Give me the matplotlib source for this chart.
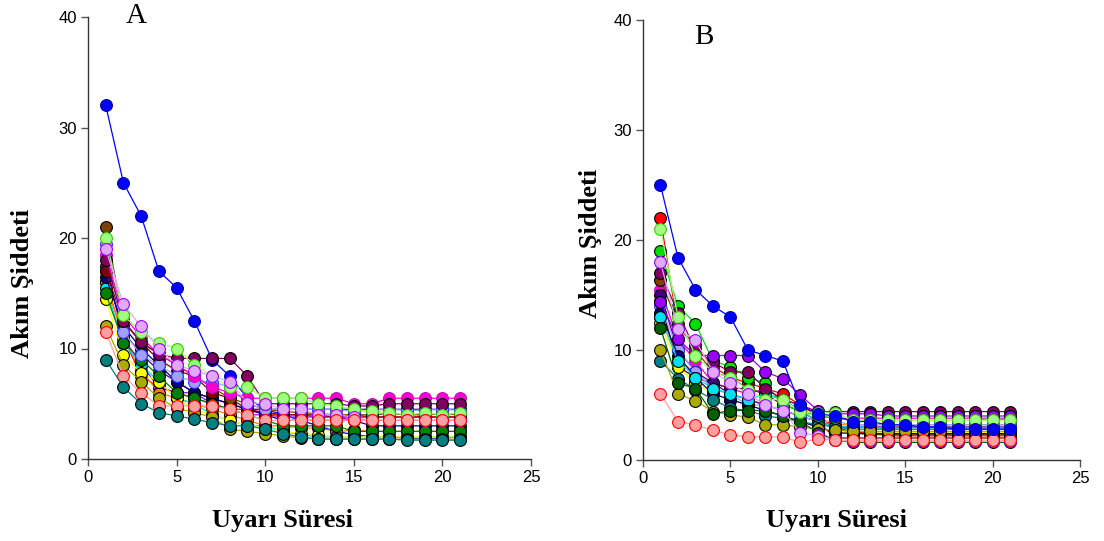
import matplotlib
matplotlib.use("Agg")
import matplotlib.pyplot as plt

x = list(range(1, 22))

# ---------------- Panel A data ----------------
a_blue = [32, 25, 22, 17, 15.5, 12.5, 9.0, 7.5, 5.5, 4.5, 4.0, 3.5, 3.0, 2.5, 2.2, 2.0, 2.0, 1.9, 1.8, 1.9, 2.0]
a_brown = [21, 12.5, 10.5, 9.5, 8.5, 7.5, 6.5, 5.5, 5.0, 4.5, 4.3, 4.2, 4.1, 4.0, 4.0, 4.0, 4.1, 4.0, 4.0, 4.1, 4.0]
a_lightgreen = [20, 13, 11.5, 10.5, 10.0, 8.5, 7.5, 6.5, 6.5, 5.5, 5.5, 5.5, 5.0, 4.8, 4.5, 4.3, 4.2, 4.0, 4.2, 4.0, 4.2]
a_lightblue = [19.5, 11.5, 9.4, 8.5, 7.5, 7.0, 7.0, 6.5, 5.0, 4.5, 4.5, 4.5, 4.5, 4.5, 4.3, 4.4, 4.5, 4.4, 4.4, 4.5, 4.4]
a_plum = [19, 14, 12, 10, 8.5, 8, 7.5, 7, 5.1, 5, 4.5, 4.5, 4.0, 4.0, 3.8, 3.5, 3.5, 3.5, 3.5, 3.5, 3.5]
a_magenta = [18.5, 13, 11, 9.5, 8.5, 7.5, 6.5, 6, 5.5, 5.5, 5.5, 5.5, 5.5, 5.5, 5.0, 5.0, 5.5, 5.5, 5.5, 5.5, 5.5]
a_purple = [18, 12.5, 10.6, 9.5, 9.1, 9.1, 9.1, 9.1, 7.5, 5.0, 5.0, 5.0, 5.0, 5.0, 4.8, 4.8, 5.0, 5.0, 5.0, 5.0, 5.0]
a_darkred = [17, 12.5, 10.5, 9, 8, 7.5, 6, 5.5, 4.5, 4.2, 4.0, 4.0, 4.0, 3.8, 3.8, 3.8, 3.8, 3.8, 3.8, 3.8, 3.8]
a_navy = [16.5, 12, 10, 8.5, 7, 6, 5.5, 5, 4.5, 4, 3.5, 3.5, 3.5, 3.5, 3.5, 3.0, 3.0, 3.0, 3.0, 3.0, 3.0]
a_orange = [16, 11, 8, 6, 5.5, 5, 4.5, 4, 3.5, 3.0, 3.0, 2.8, 2.8, 2.5, 2.6, 2.5, 2.5, 2.5, 2.5, 2.5, 2.5]
a_cyan = [15.5, 10.5, 8.5, 7, 5.5, 5, 4, 3.5, 3.0, 3.0, 2.5, 2.2, 2.0, 2.0, 2.0, 2.0, 2.0, 2.0, 2.0, 2.0, 2.0]
a_green = [15, 10.5, 9, 7.5, 6, 5.5, 5, 4.5, 4, 3.5, 3.0, 3.0, 3.0, 3.0, 2.5, 2.5, 2.5, 2.5, 2.5, 2.5, 2.5]
a_yellow = [14.5, 9.4, 7.8, 7.0, 5.5, 4.5, 4, 3.5, 3.0, 2.8, 2.5, 2.3, 2.2, 2.0, 2.0, 2.0, 2.0, 2.0, 2.0, 2.0, 2.0]
a_olive = [12, 8.5, 7, 5.5, 4.6, 4.2, 3.8, 2.7, 2.5, 2.3, 2.1, 1.9, 1.8, 1.8, 1.8, 1.8, 1.8, 1.8, 1.8, 1.8, 1.8]
a_pink = [11.5, 7.5, 6.0, 4.8, 4.8, 4.8, 4.8, 4.5, 4.0, 3.5, 3.5, 3.5, 3.5, 3.5, 3.5, 3.5, 3.5, 3.5, 3.5, 3.5, 3.5]
a_teal = [9, 6.5, 5.0, 4.2, 3.9, 3.6, 3.3, 3.0, 3.0, 2.7, 2.3, 2.0, 1.8, 1.8, 1.8, 1.8, 1.8, 1.7, 1.7, 1.7, 1.7]
a_red = [16, 11, 7.5, 6.5, 6, 5.5, 5, 4.5, 4.5, 4.0, 4.0, 4.0, 3.8, 3.8, 4.0, 3.8, 3.8, 3.8, 3.8, 3.8, 3.8]
a_violet = [17.5, 11, 8.5, 6.5, 6, 6, 5, 4.5, 4.0, 4.0, 3.8, 3.8, 3.8, 3.8, 3.5, 3.5, 3.5, 3.5, 3.5, 3.5, 3.5]
a_indigo = [17, 11.5, 9.5, 8, 7, 6, 5.5, 5, 4.5, 4.5, 4.5, 4.5, 4.5, 4.5, 4.5, 4.5, 4.5, 4.5, 4.5, 4.5, 4.5]

# ---------------- Panel B data ----------------
b_blue = [25, 18.4, 15.5, 14, 13, 10, 9.5, 9, 5, 4.2, 4.0, 3.5, 3.5, 3.2, 3.2, 3.0, 3.0, 2.8, 2.8, 2.8, 2.8]
b_red = [22, 12, 10.5, 8.5, 7.5, 7, 6.5, 6, 5, 4, 3.0, 2.5, 2.5, 2.2, 2.2, 2.2, 2.2, 2.2, 2.2, 2.2, 2.2]
b_lightgreen = [21, 13, 9.5, 8, 7.5, 6.4, 5.5, 5.5, 4.4, 4.3, 4.3, 3.6, 3.6, 3.6, 3.6, 3.6, 3.6, 3.6, 3.6, 3.6, 3.6]
b_green = [19, 14, 12.4, 9, 8.5, 7.5, 7, 5, 4.5, 4.0, 3.8, 3.6, 3.6, 3.6, 3.6, 3.6, 3.6, 3.6, 3.6, 3.8, 3.6]
b_plum = [18, 11.9, 10.9, 8, 7, 6, 5, 4.5, 2.5, 2.2, 1.8, 1.7, 1.7, 1.7, 1.7, 1.7, 1.7, 1.7, 1.7, 1.7, 1.7]
b_purple = [17, 13.4, 10, 8.9, 8, 8, 6.5, 5.5, 5, 4.4, 4.4, 4.4, 4.4, 4.4, 4.4, 4.4, 4.4, 4.4, 4.4, 4.4, 4.4]
b_brown = [16.4, 12.4, 10, 8, 7.5, 6.5, 6, 5.5, 4.5, 3.5, 3.0, 2.5, 2.3, 2.3, 2.3, 2.3, 2.3, 2.3, 2.3, 2.3, 2.3]
b_indigo = [15, 10, 8, 7, 6, 5.5, 5, 4.5, 4.0, 3.5, 3.0, 3.0, 3.0, 3.0, 3.0, 3.0, 3.0, 3.0, 3.0, 3.0, 3.0]
b_violet = [14.4, 11, 9.5, 9.5, 9.5, 9.5, 8, 7.4, 5.9, 4.5, 4.2, 4.2, 4.2, 4.0, 4.0, 4.0, 4.0, 4.0, 4.0, 4.0, 4.0]
b_lightblue = [14, 10, 8, 6.5, 6, 5, 5, 4.5, 4, 3.5, 3.5, 3.2, 3.2, 3.2, 3.2, 3.2, 3.2, 3.2, 3.2, 3.2, 3.2]
b_navy = [13.4, 9.5, 7.5, 6, 5.5, 5, 4.5, 4, 3.5, 3.0, 2.5, 2.4, 2.4, 2.4, 2.4, 2.4, 2.4, 2.4, 2.4, 2.4, 2.4]
b_cyan = [13, 9, 7.5, 6.5, 6, 5.5, 6, 5.5, 4.5, 3.5, 3.0, 3.0, 3.0, 2.8, 2.8, 2.8, 2.8, 2.8, 2.8, 2.8, 2.8]
b_darkgreen = [12, 7, 6.5, 4.2, 4.5, 4.5, 4.5, 4.0, 3.5, 2.5, 1.8, 1.6, 1.6, 1.6, 1.6, 1.6, 1.6, 1.6, 1.6, 1.6, 1.6]
b_olive = [10, 6, 5.4, 4.4, 4.1, 3.9, 3.2, 3.2, 3.0, 2.8, 2.7, 2.6, 2.6, 2.6, 2.6, 2.6, 2.6, 2.6, 2.6, 2.6, 2.6]
b_teal = [9, 7.4, 6.4, 5.5, 4.7, 4.5, 4, 3.8, 3.5, 3.2, 3.0, 2.8, 2.8, 2.8, 2.8, 2.8, 2.8, 2.8, 2.8, 2.8, 2.8]
b_pink = [6, 3.5, 3.2, 2.7, 2.3, 2.1, 2.1, 2.1, 1.6, 1.9, 1.8, 1.8, 1.8, 1.8, 1.8, 1.8, 1.8, 1.8, 1.8, 1.8, 1.8]
b_magenta = [15.5, 11, 9, 7, 6.5, 6, 6.5, 5.5, 5.0, 4.0, 3.8, 3.8, 3.8, 3.8, 3.8, 3.8, 3.8, 3.8, 3.8, 3.8, 3.8]
b_darkred = [14.5, 8.5, 7.5, 7, 6.5, 6.5, 6, 5, 4.5, 3.5, 2.0, 2.0, 2.0, 2.0, 2.0, 2.0, 2.0, 2.0, 2.0, 2.0, 2.0]
b_orange = [13, 9, 8, 6.5, 6, 5.5, 5, 4.5, 4.0, 3.5, 3.2, 3.2, 3.2, 3.2, 3.2, 3.2, 3.2, 3.2, 3.2, 3.2, 3.2]
b_yellow = [12.5, 8.5, 7, 6, 5.5, 5, 4.5, 4.0, 3.5, 3.0, 2.5, 2.5, 2.5, 2.5, 2.5, 2.5, 2.5, 2.5, 2.5, 2.5, 2.5]

x_ticks = [0, 5, 10, 15, 20, 25]
y_ticks = [0, 10, 20, 30, 40]
x_label = "Uyarı Süresi"
y_label = "Akım Şiddeti"

# styles: (face, edge)
ST = {
    "blue": ("#0000FF", "#0000A0"),
    "brown": ("#804000", "#000000"),
    "lightgreen": ("#A0FF80", "#33CC00"),
    "lightblue": ("#A0A0FF", "#3030FF"),
    "plum": ("#E0A8FF", "#9900FF"),
    "magenta": ("#FF00CC", "#CC00CC"),
    "purple": ("#800060", "#000000"),
    "darkred": ("#800000", "#000000"),
    "navy": ("#000080", "#000000"),
    "orange": ("#FF8000", "#000000"),
    "cyan": ("#00E0F0", "#000000"),
    "green": ("#008000", "#000000"),
    "brightgreen": ("#00DD00", "#000000"),
    "yellow": ("#FFFF00", "#000000"),
    "olive": ("#AAAA00", "#000000"),
    "pink": ("#FFA0A0", "#FF0000"),
    "teal": ("#008080", "#000000"),
    "red": ("#FF0000", "#000000"),
    "violet": ("#9900FF", "#000000"),
    "indigo": ("#400080", "#000000"),
    "darkgreen": ("#006000", "#000000"),
}

panel_a = [
    (a_blue, "blue"),
    (a_red, "red"), (a_violet, "violet"), (a_indigo, "indigo"),
    (a_orange, "orange"), (a_cyan, "cyan"), (a_yellow, "yellow"),
    (a_navy, "navy"), (a_darkred, "darkred"), (a_green, "green"),
    (a_brown, "brown"), (a_lightblue, "lightblue"), (a_magenta, "magenta"),
    (a_purple, "purple"), (a_lightgreen, "lightgreen"), (a_plum, "plum"),
    (a_olive, "olive"), (a_pink, "pink"), (a_teal, "teal"),
]
panel_b = [
    (b_magenta, "magenta"), (b_darkred, "darkred"), (b_orange, "orange"),
    (b_yellow, "yellow"), (b_red, "red"), (b_brown, "brown"),
    (b_indigo, "indigo"), (b_lightblue, "lightblue"), (b_navy, "navy"),
    (b_cyan, "cyan"), (b_teal, "teal"), (b_olive, "olive"),
    (b_darkgreen, "darkgreen"), (b_green, "brightgreen"), (b_purple, "purple"),
    (b_violet, "violet"), (b_lightgreen, "lightgreen"), (b_plum, "plum"),
    (b_pink, "pink"), (b_blue, "blue"),
]

fig = plt.figure(figsize=(11.04, 5.41), dpi=100)
W, H = 1104, 541


def make_axes(l, r, t, b):
    return fig.add_axes([l / W, 1 - b / H, (r - l) / W, (b - t) / H])


tick_font = dict(family="Liberation Sans", size=12)
label_font = dict(family="Liberation Serif", size=19, weight="bold")


def draw(ax, series):
    for vals, key in series:
        fc, ec = ST[key]
        ax.plot(x, vals, color=fc, lw=0.9, marker="o", ms=8.5,
                mfc=fc, mec=ec, mew=0.8, clip_on=False)
    ax.set_xlim(0, 25)
    ax.set_ylim(0, 40)
    ax.set_xticks(x_ticks)
    ax.set_yticks(y_ticks)
    ax.set_xticklabels([str(v) for v in x_ticks], fontdict=tick_font)
    ax.set_yticklabels([str(v) for v in y_ticks], fontdict=tick_font)
    for s in ("top", "right"):
        ax.spines[s].set_visible(False)
    for s in ("left", "bottom"):
        ax.spines[s].set_linewidth(1.0)
        ax.spines[s].set_color("#333333")
    ax.tick_params(direction="out", length=5, width=1, color="#555555", pad=3)


axA = make_axes(88, 531, 17, 459)
draw(axA, panel_a)
axB = make_axes(643, 1080, 20, 460)
draw(axB, panel_b)

fig.text(283 / W, 1 - 520 / H, x_label, ha="center", va="center", **label_font)
fig.text(836 / W, 1 - 520 / H, x_label, ha="center", va="center", **label_font)
fig.text(23 / W, 1 - 283 / H, y_label, ha="center", va="center", rotation=90, **label_font)
fig.text(590 / W, 1 - 243 / H, y_label, ha="center", va="center", rotation=90, **label_font)

fig.text(136 / W, 1 - 16 / H, "A", ha="center", va="center",
         family="Liberation Serif", size=21)
fig.text(704 / W, 1 - 37 / H, "B", ha="center", va="center",
         family="Liberation Serif", size=21)

fig.savefig("out.png", dpi=100)
